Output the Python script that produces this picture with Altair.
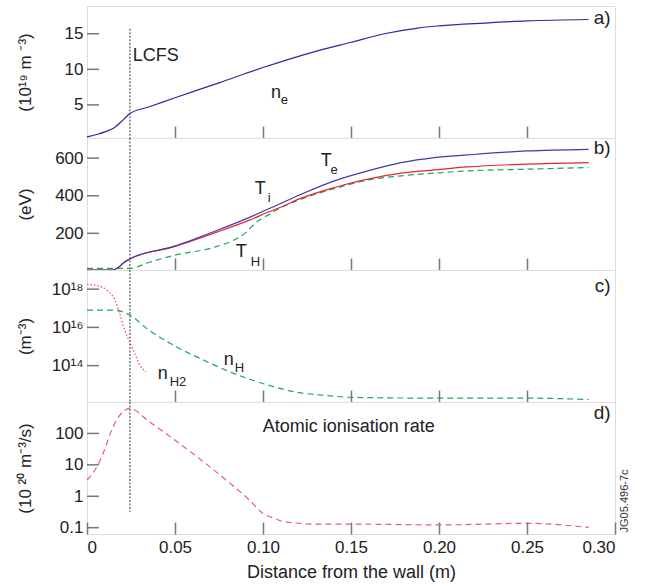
import altair as alt
import pandas as pd

FONT = "Liberation Sans"
W, H = 528, 132
X_DOMAIN = [0, 0.30]
LCFS_X = 0.0244

# ---------------- panel a: electron density (1e19 m^-3)
ne_x = [0, 0.006, 0.0105, 0.0155, 0.021, 0.0244, 0.035, 0.05, 0.075, 0.1, 0.131, 0.15, 0.169, 0.188, 0.2, 0.226, 0.25, 0.285]
ne_v = [0.5, 0.87, 1.25, 1.8, 3.0, 3.8, 4.7, 6.0, 8.1, 10.25, 12.6, 13.8, 15.0, 15.8, 16.1, 16.5, 16.8, 17.0]

# ---------------- panel b: temperatures (eV)
te_x = [0, 0.0146, 0.0184, 0.0212, 0.0244, 0.0487, 0.0734, 0.0923, 0.1027, 0.111, 0.1217, 0.1406, 0.1595, 0.1785, 0.1974, 0.2163, 0.25, 0.285]
te_v = [5, 5, 23, 46, 64, 129, 214, 285, 328, 363, 408, 479, 532, 576, 603, 617, 638, 647]
ti_v = [5, 5, 23, 46, 64, 127, 205, 270, 312, 343, 387, 444, 488, 520, 537, 553, 568, 576]
th_x = [0, 0.0244, 0.0355, 0.0487, 0.0734, 0.0828, 0.0904, 0.0961, 0.1037, 0.111, 0.1217, 0.1406, 0.1595, 0.1785, 0.1974, 0.2163, 0.25, 0.285]
th_v = [14, 14, 46, 81, 129, 161, 205, 258, 302, 340, 382, 438, 483, 506, 520, 532, 541, 550]

# ---------------- panel c: neutral densities (m^-3)
nh2_x = [0, 0.0061, 0.0118, 0.0156, 0.0184, 0.0212, 0.0244, 0.0269, 0.0297, 0.0335]
nh2_v = [1.8e18, 1.5e18, 8.1e17, 3.0e17, 6.0e16, 8.1e15, 1.6e15, 4.9e14, 1.2e14, 4.8e13]
nh_x = [0, 0.0156, 0.0244, 0.0345, 0.0496, 0.063, 0.0818, 0.1008, 0.1198, 0.137, 0.15, 0.2, 0.25, 0.285]
nh_v = [7.9e16, 7.9e16, 4.4e16, 8.1e15, 1.1e15, 2.7e14, 4.5e13, 1.1e13, 4.0e12, 2.7e12, 2.2e12, 2.0e12, 2.0e12, 1.7e12]

# ---------------- panel d: atomic ionisation rate (1e20 m^-3/s)
ion_x = [0, 0.0061, 0.0099, 0.0136, 0.0174, 0.0212, 0.0241, 0.0355, 0.0487, 0.0639, 0.079, 0.0923, 0.0998, 0.1074, 0.111, 0.131, 0.15, 0.2, 0.25, 0.285]
ion_v = [3.3, 9.8, 29.5, 112, 302, 525, 630, 234, 69, 15.8, 3.3, 0.76, 0.29, 0.19, 0.16, 0.13, 0.13, 0.123, 0.138, 0.102]

X_TICKS = [0.05, 0.10, 0.15, 0.20, 0.25]
X_LABELS = [0, 0.05, 0.10, 0.15, 0.20, 0.25, 0.30]
YT_A = [5, 10, 15]
YT_B = [200, 400, 600]
YT_C = [1e14, 1e16, 1e18]
YT_D = [0.1, 1, 10, 100]

# annotation texts (data coordinates)
lab_a = {"x": [0.026, 0.1045, 0.2975], "y": [11.2, 6.03, 17.25], "t": ["LCFS", "n", "a)"]}
sub_a = {"x": [0.1101], "y": [5.07], "t": ["e"]}
lab_b = {"x": [0.1328, 0.0953, 0.0845, 0.2975], "y": [559, 410, 72, 654], "t": ["T", "T", "T", "b)"]}
sub_b = {"x": [0.1384, 0.1027, 0.093], "y": [516, 364, 28], "t": ["e", "i", "H"]}
lab_c = {"x": [0.0777, 0.0402, 0.2975], "y": [1.1e14, 2.0e13, 1.5e18], "t": ["n", "n", "c)"]}
sub_c = {"x": [0.0839, 0.047], "y": [4.9e13, 8.3e12], "t": ["H", "H2"]}
lab_d = {"x": [0.0998, 0.2975], "y": [166, 450], "t": ["Atomic ionisation rate", "d)"]}

TXT = "#222"
TICK = "#777"
common_axis = dict(domain=False, grid=False, labelFont=FONT, labelFontSize=17, labelColor=TXT,
                   titleFont=FONT, titleFontWeight="normal", titleColor=TXT)
x_tick_axis = dict(tickSize=12, offset=-12, tickColor=TICK, tickWidth=1.5)


def xenc(bottom=False):
    if bottom:
        axis = alt.Axis(values=X_LABELS, labelExpr="datum.value == 0 ? '0' : format(datum.value, '.2f')",
                        title="Distance from the wall (m)", labelPadding=5, titlePadding=8,
                        titleFontSize=18, **x_tick_axis, **common_axis)
    else:
        axis = alt.Axis(values=X_TICKS, labels=False, title=None, **x_tick_axis, **common_axis)
    return alt.X("x:Q", scale=alt.Scale(domain=X_DOMAIN, nice=False, zero=False), axis=axis)


def yenc(domain, values, title, log=False, labelExpr=None, fmt=None):
    kw = dict(values=values, title=title, labelPadding=4, ticks=False, titleX=-53,
              titleFontSize=17, **common_axis)
    if labelExpr:
        kw["labelExpr"] = labelExpr
    if fmt:
        kw["format"] = fmt
    sc = alt.Scale(domain=domain, nice=False, zero=False, type="log" if log else "linear")
    return alt.Y("y:Q", scale=sc, axis=alt.Axis(**kw))


def yticks(values, ye, bottom=False):
    df = pd.DataFrame({"y": values})
    return alt.Chart(df).mark_rule(color=TICK, strokeWidth=1.5).encode(
        x=alt.value(0), x2=alt.value(12), y=ye)


def line(xs, ys, color, dash=None, width=1.2, bottom=False, ye=None):
    df = pd.DataFrame({"x": xs, "y": ys})
    kw = dict(color=color, strokeWidth=width, interpolate="monotone")
    if dash:
        kw["strokeDash"] = dash
    return alt.Chart(df).mark_line(**kw).encode(x=xenc(bottom), y=ye)


def texts(d, ye, size=18, bottom=False, align="left", baseline="alphabetic"):
    df = pd.DataFrame(d)
    return alt.Chart(df).mark_text(font=FONT, fontSize=size, color=TXT, align=align, baseline=baseline).encode(
        x=xenc(bottom), y=ye, text="t:N")


def lcfs(y0, y1, ye, bottom=False):
    df = pd.DataFrame({"x": [LCFS_X], "y": [y0], "y2": [y1]})
    return alt.Chart(df).mark_rule(color="#333", strokeDash=[2, 1.5], strokeWidth=1).encode(
        x=xenc(bottom), y=ye, y2="y2:Q")


# panel a
dom_a = [0.35, 18.9]
ya = yenc(dom_a, YT_A, "(10¹⁹ m ⁻³)")
pa = alt.layer(
    lcfs(15.7, dom_a[0], ya),
    line(ne_x, ne_v, "#2b2b9e", ye=ya),
    texts({k: v[:2] for k, v in lab_a.items()}, ya),
    texts({k: v[2:] for k, v in lab_a.items()}, ya, size=19, align="right", baseline="middle"),
    texts(sub_a, ya, size=13),
    yticks(YT_A, ya),
).properties(width=W, height=H)

# panel b
dom_b = [5, 707]
yb = yenc(dom_b, YT_B, "(eV)")
pb = alt.layer(
    lcfs(dom_b[1], dom_b[0], yb),
    line(th_x, th_v, "#1aaa55", dash=[6, 4], ye=yb),
    line(te_x, ti_v, "#e3262f", ye=yb),
    line(te_x, te_v, "#3c3ca8", ye=yb),
    texts({k: v[:3] for k, v in lab_b.items()}, yb),
    texts({k: v[3:] for k, v in lab_b.items()}, yb, size=19, align="right", baseline="middle"),
    texts(sub_b, yb, size=13),
    yticks(YT_B, yb),
).properties(width=W, height=H)

# panel c
dom_c = [10 ** 12.1, 1e19]
yc = yenc(dom_c, YT_C, "(m⁻³)", log=True,
          labelExpr="datum.value > 5e17 ? '10¹⁸' : datum.value > 5e15 ? '10¹⁶' : '10¹⁴'")
pc = alt.layer(
    lcfs(dom_c[1], dom_c[0], yc),
    line(nh_x, nh_v, "#1aaa55", dash=[6, 4], ye=yc),
    line(nh2_x, nh2_v, "#ee4444", dash=[1.5, 2], ye=yc),
    texts({k: v[:2] for k, v in lab_c.items()}, yc),
    texts({k: v[2:] for k, v in lab_c.items()}, yc, size=19, align="right", baseline="middle"),
    texts(sub_c, yc, size=13),
    yticks(YT_C, yc),
).properties(width=W, height=H)

# panel d
dom_d = [10 ** -1.2, 1000]
yd = yenc(dom_d, YT_D, "(10 ²⁰ m⁻³/s)", log=True, fmt="~g")
jg = pd.DataFrame({"x": [0.3055], "y": [0.71], "t": ["JG05.496-7c"]})
pd_ = alt.layer(
    lcfs(dom_d[1], 0.32, yd, bottom=True),
    line(ion_x, ion_v, "#e9559a", dash=[6, 4], ye=yd, bottom=True),
    texts({k: v[:1] for k, v in lab_d.items()}, yd, bottom=True, baseline="middle"),
    texts({k: v[1:] for k, v in lab_d.items()}, yd, size=19, bottom=True, align="right", baseline="middle"),
    alt.Chart(jg).mark_text(font=FONT, fontSize=11, color="#333", angle=270, align="center",
                            baseline="middle").encode(x=xenc(True), y=yd, text="t:N"),
    yticks(YT_D, yd, bottom=True),
).properties(width=W, height=H)

chart = alt.vconcat(pa, pb, pc, pd_, spacing=0, bounds="flush").properties(
    padding={"left": 15, "top": 5, "right": 5, "bottom": 5}
).configure_view(stroke="#333", strokeWidth=1.2).configure(background="white")

chart.save("out.html", embed_options={"renderer": "svg", "actions": False})
